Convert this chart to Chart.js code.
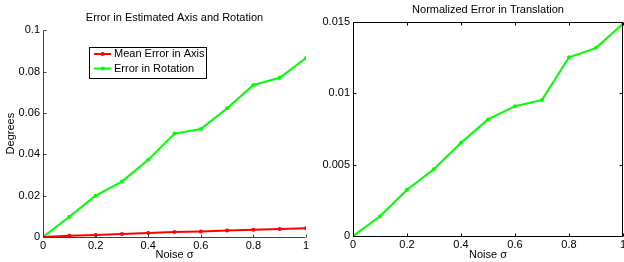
<!DOCTYPE html>
<html>
<head>
<meta charset="utf-8">
<script src="https://cdn.jsdelivr.net/npm/chart.js@4"></script>
<style>
  html, body { margin: 0; padding: 0; background: #fff; overflow: hidden; }
  #wrap { position: relative; width: 624px; height: 262px; overflow: hidden; }
  canvas { position: absolute; top: 0; }
  #left { left: 0; }
  #right { left: 310px; }
</style>
</head>
<body>
<div id="wrap">
  <canvas id="left" width="320" height="262"></canvas>
  <canvas id="right" width="340" height="262"></canvas>
</div>
<script>
// values
const noise = [0, 0.1, 0.2, 0.3, 0.4, 0.5, 0.6, 0.7, 0.8, 0.9, 1];
const axisError = [0, 0.0006, 0.001, 0.0015, 0.0019, 0.0024, 0.0027, 0.0032, 0.0035, 0.0039, 0.0042];
const rotationError = [0, 0.0098, 0.0200, 0.0268, 0.0373, 0.0500, 0.0522, 0.0623, 0.0735, 0.0770, 0.0865];
const translationError = [0, 0.00138, 0.00325, 0.0047, 0.00654, 0.00818, 0.00911, 0.00955, 0.01254, 0.0132, 0.0149];

const noiseTicks = [0, 0.2, 0.4, 0.6, 0.8, 1];
const degreeTicks = [0, 0.02, 0.04, 0.06, 0.08, 0.1];
const translationTicks = [0, 0.005, 0.01, 0.015];

const FONT = 'Arial, "Liberation Sans", sans-serif';
Chart.defaults.font.family = FONT;
Chart.defaults.font.size = 11;
Chart.defaults.color = '#000';

const pts = ys => noise.map((x, i) => ({ x: x, y: ys[i] }));
// matlab style labels: 0.1 not 0.10, 1 not 1.0
const fmt = v => String(parseFloat(Number(v).toPrecision(6)));

// axis lines and inward ticks
const axisFrame = {
    id: 'axisFrame',
    afterDatasetsDraw(chart, args, opts) {
        const { ctx, chartArea: a, scales: { x, y } } = chart;
        const t = opts.tick;
        const l = Math.round(a.left) + 0.5, b = Math.round(a.bottom) + 0.5;
        const r = Math.round(a.right) - 0.5, tp = Math.round(a.top) + 0.5;
        ctx.save();
        ctx.strokeStyle = opts.color;
        ctx.lineWidth = 1;
        ctx.beginPath();
        ctx.moveTo(l, tp); ctx.lineTo(l, b); ctx.lineTo(r, b);
        if (opts.box) { ctx.moveTo(l, tp); ctx.lineTo(r, tp); ctx.lineTo(r, b); }
        x.ticks.forEach(tk => {
            const px = Math.round(x.getPixelForValue(tk.value)) + 0.5;
            ctx.moveTo(px, b); ctx.lineTo(px, b - t);
            if (opts.box) { ctx.moveTo(px, tp); ctx.lineTo(px, tp + t); }
        });
        y.ticks.forEach(tk => {
            const py = Math.round(y.getPixelForValue(tk.value)) + 0.5;
            ctx.moveTo(l, py); ctx.lineTo(l + t, py);
            if (opts.box) { ctx.moveTo(r, py); ctx.lineTo(r - t, py); }
        });
        ctx.stroke();
        ctx.restore();
    }
};

// boxed legend inside the plot
const boxLegend = {
    id: 'boxLegend',
    afterDraw(chart, args, opts) {
        if (!opts.display) return;
        const { ctx, chartArea: a } = chart;
        const bx = Math.round(a.left + opts.x), by = Math.round(a.top + opts.y);
        ctx.save();
        ctx.fillStyle = '#fff';
        ctx.fillRect(bx, by, opts.w, opts.h);
        ctx.strokeStyle = '#000';
        ctx.lineWidth = 1;
        ctx.strokeRect(bx + 0.5, by + 0.5, opts.w, opts.h);
        ctx.font = '11px ' + FONT;
        ctx.textBaseline = 'middle';
        chart.data.datasets.forEach((ds, i) => {
            const cy = by + 7 + i * 14.5;
            ctx.strokeStyle = ds.borderColor;
            ctx.lineWidth = 2;
            ctx.beginPath(); ctx.moveTo(bx + 5, cy); ctx.lineTo(bx + 22, cy); ctx.stroke();
            ctx.fillStyle = ds.borderColor;
            ctx.beginPath(); ctx.arc(bx + 13.5, cy, 2, 0, Math.PI * 2); ctx.fill();
            ctx.fillStyle = '#000';
            ctx.fillText(ds.label, bx + 25, cy);
        });
        ctx.restore();
    }
};

function lineSet(label, ys, color) {
    return {
        label: label,
        data: pts(ys),
        borderColor: color,
        backgroundColor: color,
        borderWidth: 2,
        pointRadius: 2,
        pointBorderWidth: 0,
        pointBackgroundColor: color,
        tension: 0
    };
}

function xScale(height) {
    return {
        type: 'linear', min: 0, max: 1,
        afterBuildTicks: s => { s.ticks = noiseTicks.map(v => ({ value: v })); },
        afterFit: s => { s.height = height; },
        grid: { display: false, drawTicks: false },
        border: { display: false },
        ticks: { padding: 2, maxRotation: 0, autoSkip: false, callback: fmt },
        title: { display: true, text: 'Noise σ', padding: { top: 0, bottom: 0 } }
    };
}

function yScale(max, tickList, title) {
    return {
        type: 'linear', min: 0, max: max,
        afterBuildTicks: s => { s.ticks = tickList.map(v => ({ value: v })); },
        afterFit: s => { s.width = 43; },
        grid: { display: false, drawTicks: false },
        border: { display: false },
        ticks: { padding: 3, autoSkip: false, callback: fmt },
        title: { display: !!title, text: title || '', padding: { top: 4, bottom: 0 } }
    };
}

new Chart(document.getElementById('left'), {
    type: 'line',
    data: {
        datasets: [
            lineSet('Mean Error in Axis', axisError, '#ff0000'),
            lineSet('Error in Rotation', rotationError, '#00ff00')
        ]
    },
    options: {
        responsive: false,
        animation: false,
        devicePixelRatio: 1,
        layout: { padding: { left: 0, right: 14, top: 0, bottom: 0 } },
        scales: { x: xScale(25), y: yScale(0.1, degreeTicks, 'Degrees') },
        plugins: {
            legend: { display: false },
            tooltip: { enabled: false },
            title: {
                display: true, text: 'Error in Estimated Axis and Rotation', fullSize: false,
                font: { size: 11, weight: 'normal' }, padding: { top: 11, bottom: 6 }
            },
            axisFrame: { color: '#404040', tick: 3, box: false },
            boxLegend: { display: true, x: 46, y: 17, w: 117, h: 31 }
        }
    },
    plugins: [axisFrame, boxLegend]
});

new Chart(document.getElementById('right'), {
    type: 'line',
    data: {
        datasets: [lineSet('Normalized Error in Translation', translationError, '#00ff00')]
    },
    options: {
        responsive: false,
        animation: false,
        devicePixelRatio: 1,
        layout: { padding: { left: 0, right: 27, top: 0, bottom: 0 } },
        scales: { x: xScale(26), y: yScale(0.015, translationTicks, '') },
        plugins: {
            legend: { display: false },
            tooltip: { enabled: false },
            title: {
                display: true, text: 'Normalized Error in Translation', fullSize: false,
                font: { size: 11, weight: 'normal' }, padding: { top: 3, bottom: 6 }
            },
            axisFrame: { color: '#000', tick: 3, box: true },
            boxLegend: { display: false }
        }
    },
    plugins: [axisFrame, boxLegend]
});
</script>
</body>
</html>
